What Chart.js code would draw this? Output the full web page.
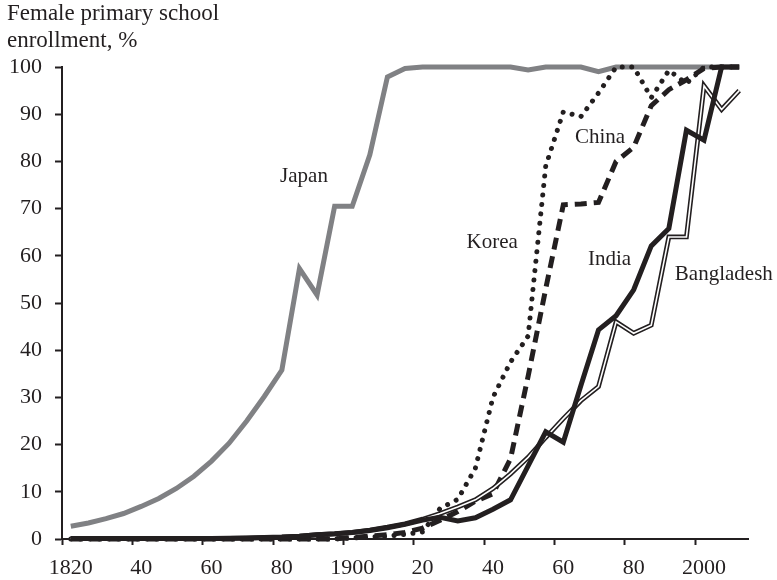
<!DOCTYPE html>
<html>
<head>
<meta charset="utf-8">
<script src="https://cdn.jsdelivr.net/npm/chart.js@4.4.1/dist/chart.umd.min.js"></script>
<style>
html,body{margin:0;padding:0;background:#fff;}
#wrap{width:777px;height:580px;position:relative;}
</style>
</head>
<body>
<div id="wrap"><canvas id="c" width="777" height="580"></canvas></div>
<script>
// ---- data ----
const years = [1820,1825,1830,1835,1840,1845,1850,1855,1860,1865,1870,1875,1880,1885,1890,1895,
  1900,1905,1910,1915,1920,1925,1930,1935,1940,1945,1950,1955,1960,1965,1970,1975,1980,1985,1990,1995,2000,2005,2010];

const japan = [2.7,3.4,4.3,5.4,6.9,8.6,10.7,13.3,16.5,20.3,25.0,30.2,35.8,57.3,51.7,70.5,
  70.5,81.4,97.9,99.7,100,100,100,100,100,100,99.4,100,100,100,99.0,100,100,100,100,100,100,100,100];

const korea = [0,0,0,0,0,0,0,0,0,0,0,0,0,0,0,0,
  0.2,0.4,0.6,1.0,1.5,6.5,8.4,15.0,30.0,37.5,43.0,79.0,90.5,89.5,94.5,100,100,93.5,99.3,96.5,100,100,100];

const china = [0,0,0,0,0,0,0,0,0,0,0,0,0,0,0,0,
  0.3,0.6,0.9,1.4,2.3,4.0,5.8,8.0,9.6,17.0,34.5,53.0,70.8,71.0,71.3,80.0,83.0,91.8,95.2,97.3,99.7,100,100];

const india = [0.1,0.1,0.1,0.1,0.1,0.1,0.1,0.1,0.1,0.15,0.2,0.3,0.4,0.6,0.9,1.1,
  1.4,1.8,2.4,3.1,4.0,4.6,3.8,4.5,6.3,8.3,15.5,22.7,20.5,32.5,44.3,47.3,52.8,62.1,65.8,86.6,84.5,100,100];

const bangladesh = [0.1,0.1,0.1,0.1,0.1,0.1,0.1,0.1,0.1,0.15,0.2,0.3,0.4,0.6,0.9,1.1,
  1.4,1.9,2.5,3.2,4.2,5.4,6.8,8.3,10.7,13.8,17.3,21.5,25.5,29.3,32.3,46.0,43.6,45.3,64.0,64.0,96.0,91.0,95.0];

// axis ticks
const xLabelYears = [1820,1840,1860,1880,1900,1920,1940,1960,1980,2000];
const xLabelTexts = ['1820','40','60','80','1900','20','40','60','80','2000'];
const xMarkYears  = [1817.5,1837.5,1857.5,1877.5,1897.5,1917.5,1937.5,1957.5,1977.5,1997.5];
const yTickValues = [0,10,20,30,40,50,60,70,80,90,100];

// in-chart series labels (data coordinates: year, value)
const noteTexts  = ['Japan','China','Korea','India','Bangladesh'];
const noteYears  = [1879.5,1963.3,1932.5,1967.0,1991.7];
const noteValues = [75.6,83.9,61.7,58.1,54.9];

const pts = arr => arr.map((v,i)=>({x:years[i], y:v}));
const INK = '#231f20';
const SERIF = '"Liberation Serif","Times New Roman",serif';

const notesPlugin = {
  id:'notes',
  afterDatasetsDraw(chart){
    const {ctx, scales:{x,y}} = chart;
    ctx.save();
    ctx.font = '21px ' + SERIF;
    ctx.fillStyle = INK;
    ctx.textAlign = 'left';
    ctx.textBaseline = 'alphabetic';
    noteTexts.forEach((t,i)=>ctx.fillText(t, x.getPixelForValue(noteYears[i]), y.getPixelForValue(noteValues[i])));
    ctx.restore();
  }
};

const common = {pointRadius:0, tension:0, fill:false, clip:false, borderJoinStyle:'miter'};

new Chart(document.getElementById('c'), {
  type:'line',
  data:{
    datasets:[
      {...common, label:'India', data:pts(india), borderColor:INK, borderWidth:5},
      {...common, label:'Bangladesh (inner)', data:pts(bangladesh), borderColor:'#ffffff', borderWidth:1.6},
      {...common, label:'Bangladesh', data:pts(bangladesh), borderColor:INK, borderWidth:4.8},
      {...common, label:'China', data:pts(china), borderColor:INK, borderWidth:5, borderDash:[12,7]},
      {...common, label:'Korea', data:pts(korea), borderColor:INK, borderWidth:5, borderDash:[0.01,9.5], borderCapStyle:'round', borderJoinStyle:'round'},
      {...common, label:'Japan', data:pts(japan), borderColor:'#808184', borderWidth:5}
    ]
  },
  options:{
    responsive:false,
    animation:false,
    devicePixelRatio:1,
    layout:{padding:{left:7,right:29,top:0,bottom:0}},
    plugins:{
      legend:{display:false},
      tooltip:{enabled:false},
      title:{
        display:true,
        text:['Female primary school','enrollment, %'],
        align:'start',
        color:INK,
        font:{family:SERIF, size:23, weight:'normal', lineHeight:1.157},
        padding:{top:0.6,bottom:13.2}
      }
    },
    scales:{
      x:{
        type:'linear', min:1817.5, max:2012.5,
        afterBuildTicks:s=>{
          s.ticks = xMarkYears.concat(xLabelYears).sort((a,b)=>a-b).map(v=>({value:v}));
        },
        ticks:{
          autoSkip:false, maxRotation:0, minRotation:0, padding:10, color:INK,
          font:{family:SERIF, size:22},
          callback:(v)=>{const i = xLabelYears.indexOf(v); return i>=0 ? xLabelTexts[i] : '';}
        },
        grid:{drawOnChartArea:false, drawTicks:true, tickLength:6, tickWidth:2,
          tickColor:ctx=>(ctx.tick && xMarkYears.includes(ctx.tick.value)) ? INK : 'rgba(0,0,0,0)'},
        border:{display:true, color:INK, width:2},
        afterFit:s=>{s.height = 41;}
      },
      y:{
        min:0, max:100,
        afterBuildTicks:s=>{ s.ticks = yTickValues.map(v=>({value:v})); },
        ticks:{padding:13, color:INK, font:{family:SERIF, size:22}},
        grid:{drawOnChartArea:false, drawTicks:true, tickLength:7, tickWidth:2, tickColor:INK},
        border:{display:true, color:INK, width:2},
        afterFit:s=>{s.width = 55;}
      }
    }
  },
  plugins:[notesPlugin]
});
</script>
</body>
</html>
